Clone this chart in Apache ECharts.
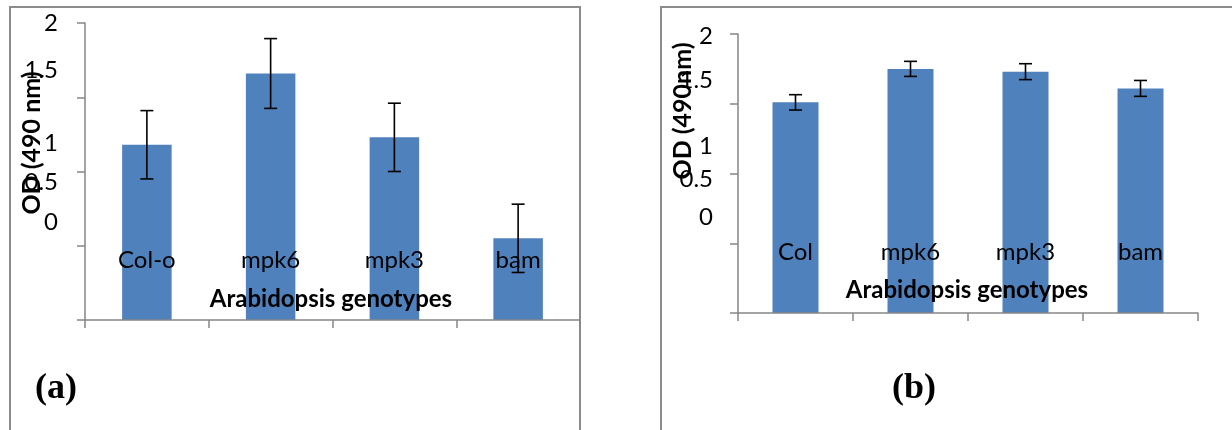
<!DOCTYPE html>
<html>
<head>
<meta charset="utf-8">
<script src="https://cdn.jsdelivr.net/npm/echarts@6/dist/echarts.min.js"></script>
<style>
  html, body { margin: 0; padding: 0; background: #fff; }
  #chart { width: 1232px; height: 430px; }
</style>
</head>
<body>
<div id="chart"></div>
<script>
// ---- data ----
const categoriesA = ['Col-o', 'mpk6', 'mpk3', 'bam'];
const valuesA = [1.18, 1.66, 1.23, 0.55];
const errorsA = [0.23, 0.235, 0.23, 0.23];

const categoriesB = ['Col', 'mpk6', 'mpk3', 'bam'];
const valuesB = [1.51, 1.75, 1.73, 1.61];
const errorsB = [0.055, 0.054, 0.057, 0.057];

const yTickLabels = ['2', '1.5', '1', '0.5', '0'];
const xTitle = 'Arabidopsis genotypes';
const yTitleA = 'OD (490 nm)';
const yTitleB = 'OD (490nm)';
const panelLabels = ['(a)', '(b)'];

// ---- styles / layout ----
const BAR = '#4F81BD';
const AXIS = '#868686';
const FONT = 'Lato, "Liberation Sans", sans-serif';

const chart = echarts.init(document.getElementById('chart'), null, { renderer: 'canvas' });

function errorSeries(xi, yi, values, errors) {
  return {
    type: 'custom',
    xAxisIndex: xi, yAxisIndex: yi,
    z: 5,
    data: values.map((v, i) => [i, v, errors[i]]),
    renderItem: function (params, api) {
      const x = api.value(0), v = api.value(1), e = api.value(2);
      const top = api.coord([x, v + e]);
      const bot = api.coord([x, v - e]);
      const hw = 6.5;
      const style = { stroke: '#000', lineWidth: 1.6 };
      return {
        type: 'group',
        children: [
          { type: 'line', shape: { x1: top[0], y1: top[1], x2: bot[0], y2: bot[1] }, style },
          { type: 'line', shape: { x1: top[0] - hw, y1: top[1], x2: top[0] + hw, y2: top[1] }, style },
          { type: 'line', shape: { x1: bot[0] - hw, y1: bot[1], x2: bot[0] + hw, y2: bot[1] }, style }
        ]
      };
    }
  };
}

function xAxisDef(gridIndex, cats, labelMargin) {
  return {
    type: 'category', gridIndex, data: cats, z: 8,
    axisLine: { show: true, lineStyle: { color: AXIS, width: 1.5 } },
    axisTick: { show: true, length: 8, alignWithLabel: false, lineStyle: { color: AXIS, width: 1.5 } },
    axisLabel: { inside: true, margin: labelMargin, verticalAlign: 'middle', color: '#000', fontSize: 24, fontFamily: FONT },
    splitLine: { show: false }
  };
}
function yAxisDef(gridIndex) {
  return {
    type: 'value', gridIndex, min: 0, max: 2, interval: 0.5,
    axisLine: { show: true, lineStyle: { color: AXIS, width: 1.5 } },
    axisTick: { show: true, length: 8, lineStyle: { color: AXIS, width: 1.5 } },
    axisLabel: { show: false },
    splitLine: { show: false }
  };
}

// free-floating text positions (as in the source figure)
const tickPosA = { right: 58, ys: [23, 70, 143, 182, 222] };
const tickPosB = { right: 713, ys: [36, 80, 146, 179, 217] };
const graphics = [
  { type: 'rect', shape: { x: 10, y: 7, width: 570, height: 440 }, style: { fill: 'none', stroke: '#8c8c8c', lineWidth: 2 }, z: 0 },
  { type: 'rect', shape: { x: 661, y: 7, width: 620, height: 440 }, style: { fill: 'none', stroke: '#8c8c8c', lineWidth: 2 }, z: 0 }
];
[tickPosA, tickPosB].forEach(p => {
  yTickLabels.forEach((t, i) => {
    graphics.push({ type: 'text', x: p.right, y: p.ys[i], z: 10,
      style: { text: t, fill: '#000', font: '24px ' + FONT, textAlign: 'right', textVerticalAlign: 'middle' } });
  });
});
graphics.push({ type: 'text', x: 331, y: 299, z: 10,
  style: { text: xTitle, fill: '#000', font: 'bold 24px ' + FONT, textAlign: 'center', textVerticalAlign: 'middle' } });
graphics.push({ type: 'text', x: 967, y: 290, z: 10,
  style: { text: xTitle, fill: '#000', font: 'bold 24px ' + FONT, textAlign: 'center', textVerticalAlign: 'middle' } });
graphics.push({ type: 'text', x: 32, y: 143, rotation: Math.PI / 2, z: 10,
  style: { text: yTitleA, fill: '#000', font: 'bold 25px ' + FONT, textAlign: 'center', textVerticalAlign: 'middle' } });
graphics.push({ type: 'text', x: 683, y: 111, rotation: Math.PI / 2, z: 10,
  style: { text: yTitleB, fill: '#000', font: 'bold 25px ' + FONT, textAlign: 'center', textVerticalAlign: 'middle' } });
graphics.push({ type: 'text', x: 56, y: 389, z: 10,
  style: { text: panelLabels[0], fill: '#000', font: 'bold 36px "Liberation Serif", serif', textAlign: 'center', textVerticalAlign: 'middle' } });
graphics.push({ type: 'text', x: 914, y: 389, z: 10,
  style: { text: panelLabels[1], fill: '#000', font: 'bold 36px "Liberation Serif", serif', textAlign: 'center', textVerticalAlign: 'middle' } });

const option = {
  animation: false,
  backgroundColor: '#fff',
  grid: [
    { left: 85, top: 23, width: 495, height: 297 },
    { left: 738, top: 34, width: 460, height: 279 }
  ],
  xAxis: [xAxisDef(0, categoriesA, 60), xAxisDef(1, categoriesB, 61)],
  yAxis: [yAxisDef(0), yAxisDef(1)],
  series: [
    { type: 'bar', xAxisIndex: 0, yAxisIndex: 0, data: valuesA, barWidth: '40%', itemStyle: { color: BAR }, z: 2 },
    errorSeries(0, 0, valuesA, errorsA),
    { type: 'bar', xAxisIndex: 1, yAxisIndex: 1, data: valuesB, barWidth: '40%', itemStyle: { color: BAR }, z: 2 },
    errorSeries(1, 1, valuesB, errorsB)
  ],
  graphic: graphics
};
chart.setOption(option);
</script>
</body>
</html>
